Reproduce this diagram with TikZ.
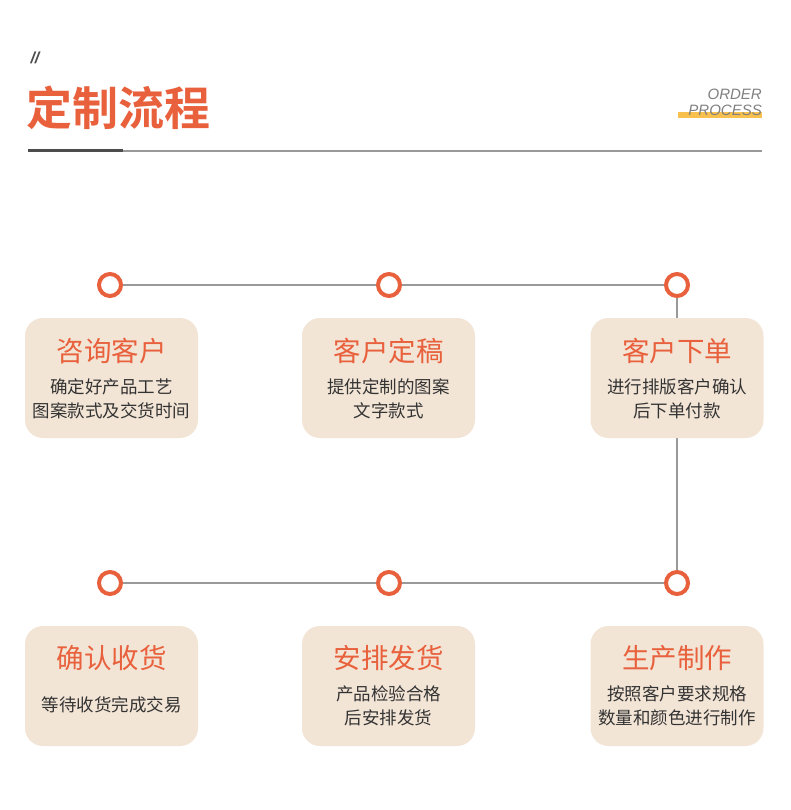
\documentclass[tikz,border=0pt]{standalone}
\usepackage{fontspec}
\newfontfamily\cjk{Noto Sans CJK SC}
\newfontfamily\cjkb{Noto Sans CJK SC Bold}
\setsansfont{Liberation Sans}
\definecolor{org}{HTML}{E8603C}
\definecolor{boxc}{HTML}{F3E5D6}
\definecolor{txt}{HTML}{333333}
\definecolor{ln}{HTML}{999999}
\definecolor{ylw}{HTML}{F8C14D}
\begin{document}
\begin{tikzpicture}[x=1pt,y=-1pt,
  dot/.style={circle,draw=org,line width=4pt,fill=white,minimum size=22pt,inner sep=0pt},
  card/.style={rounded corners=18pt,fill=boxc,minimum width=173pt,minimum height=120pt,inner sep=0pt},
  ttl/.style={text=org,font=\cjk\fontsize{27.5}{30}\selectfont},
  body/.style={text=txt,font=\cjk\fontsize{17.5}{24}\selectfont,align=center},
  conn/.style={draw=ln,line width=1.6pt}]
\useasboundingbox (0,0) rectangle (790,810);
\fill[white] (0,0) rectangle (790,810);
\node[text=black!70,font=\sffamily\bfseries\itshape\fontsize{16}{16}\selectfont,anchor=west] (q) at (27,58) {//};
\node[text=org,font=\cjkb\fontsize{46}{50}\selectfont,anchor=west,inner sep=0pt] (t) at (26,108) {定制流程};
\fill[ylw] (678,112) rectangle (762,118);
\node[text=gray,font=\sffamily\itshape\fontsize{15}{15}\selectfont,anchor=east,inner sep=0pt] (o1) at (762,94) {ORDER};
\node[text=gray,font=\sffamily\itshape\fontsize{15}{15}\selectfont,anchor=east,inner sep=0pt] (o2) at (762,110) {PROCESS};
\draw[ln,line width=1.5pt] (123,151) -- (762,151);
\draw[black!70,line width=3pt] (28,151) -- (123,151);
\coordinate (a) at (110,285); \coordinate (b) at (389,285); \coordinate (c) at (677,285);
\coordinate (d) at (110,583); \coordinate (e) at (389,583); \coordinate (f) at (677,583);
\draw[conn] (a) -- (b) -- (c) -- (f) -- (e) -- (d);
\foreach \p in {a,b,c,d,e,f} \node[dot] (n\p) at (\p) {};
\node[card] (k1) at (111.5,378) {};
\node[card] (k2) at (388.5,378) {};
\node[card] (k3) at (677,378) {};
\node[card] (k4) at (111.5,686) {};
\node[card] (k5) at (388.5,686) {};
\node[card] (k6) at (677,686) {};
\node[ttl] at (111.5,351) {咨询客户};
\node[body] at (111.5,399) {确定好产品工艺\\图案款式及交货时间};
\node[ttl] at (388.5,351) {客户定稿};
\node[body] at (388.5,399) {提供定制的图案\\文字款式};
\node[ttl] at (677,351) {客户下单};
\node[body] at (677,399) {进行排版客户确认\\后下单付款};
\node[ttl] at (111.5,658) {确认收货};
\node[body] at (111.5,705) {等待收货完成交易};
\node[ttl] at (388.5,658) {安排发货};
\node[body] at (388.5,706) {产品检验合格\\后安排发货};
\node[ttl] at (677,658) {生产制作};
\node[body] at (677,706) {按照客户要求规格\\数量和颜色进行制作};
\end{tikzpicture}
\end{document}
